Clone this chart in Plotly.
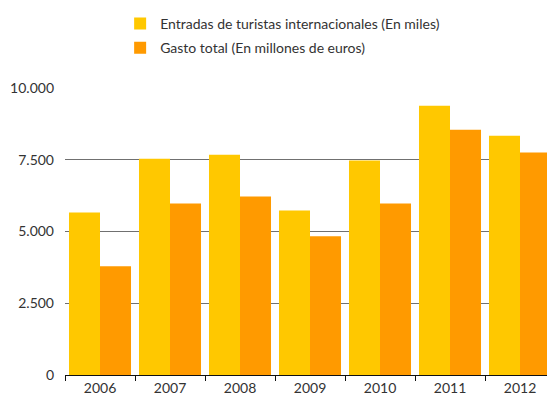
import plotly.graph_objects as go

years = ["2006", "2007", "2008", "2009", "2010", "2011", "2012"]
entradas = [5660, 7535, 7670, 5730, 7470, 9375, 8330]
gasto = [3785, 5970, 6215, 4830, 5975, 8540, 7745]
name_entradas = "Entradas de turistas internacionales (En miles)"
name_gasto = "Gasto total (En millones de euros)"
y_ticks = [0, 2500, 5000, 7500, 10000]

FONT = "Lato, 'Open Sans', sans-serif"

fig = go.Figure()
fig.add_trace(go.Bar(x=years, y=entradas, name=name_entradas,
                     marker=dict(color="#FFC800", line=dict(width=0)),
                     legendgroup="a"))
fig.add_trace(go.Bar(x=years, y=gasto, name=name_gasto,
                     marker=dict(color="#FF9A00", line=dict(width=0)),
                     legendgroup="b"))

# page body has an 8px default margin; size the figure so the visible area matches
fig.update_layout(
    width=547, height=395,
    margin=dict(l=57, r=0, t=79, b=28, autoexpand=False),
    paper_bgcolor="white", plot_bgcolor="white",
    barmode="group", bargap=0.114, bargroupgap=0,
    separators=",.",
    font=dict(family=FONT, size=14, color="#333333"),
    legend=dict(
        orientation="v",
        xref="container", yref="container",
        x=0.205, y=1.008, xanchor="left", yanchor="top",
        font=dict(family=FONT, size=14, color="#333333"),
        itemwidth=30, tracegroupgap=3,
        bgcolor="rgba(0,0,0,0)",
    ),
    xaxis=dict(
        showgrid=False, showline=True, linecolor="#111111", linewidth=1,
        ticks="outside", tickson="boundaries", ticklen=5, tickcolor="#111111",
        tickfont=dict(size=14, color="#333333"),
    ),
    yaxis=dict(
        range=[0, 10030], tickvals=y_ticks, tickformat=",d",
        showgrid=True, gridcolor="#707070", gridwidth=1,
        zeroline=False, showline=False, ticks="",
        tickfont=dict(size=14, color="#333333"),
        ticklabelstandoff=10,
    ),
)

fig.write_html("out.html")
